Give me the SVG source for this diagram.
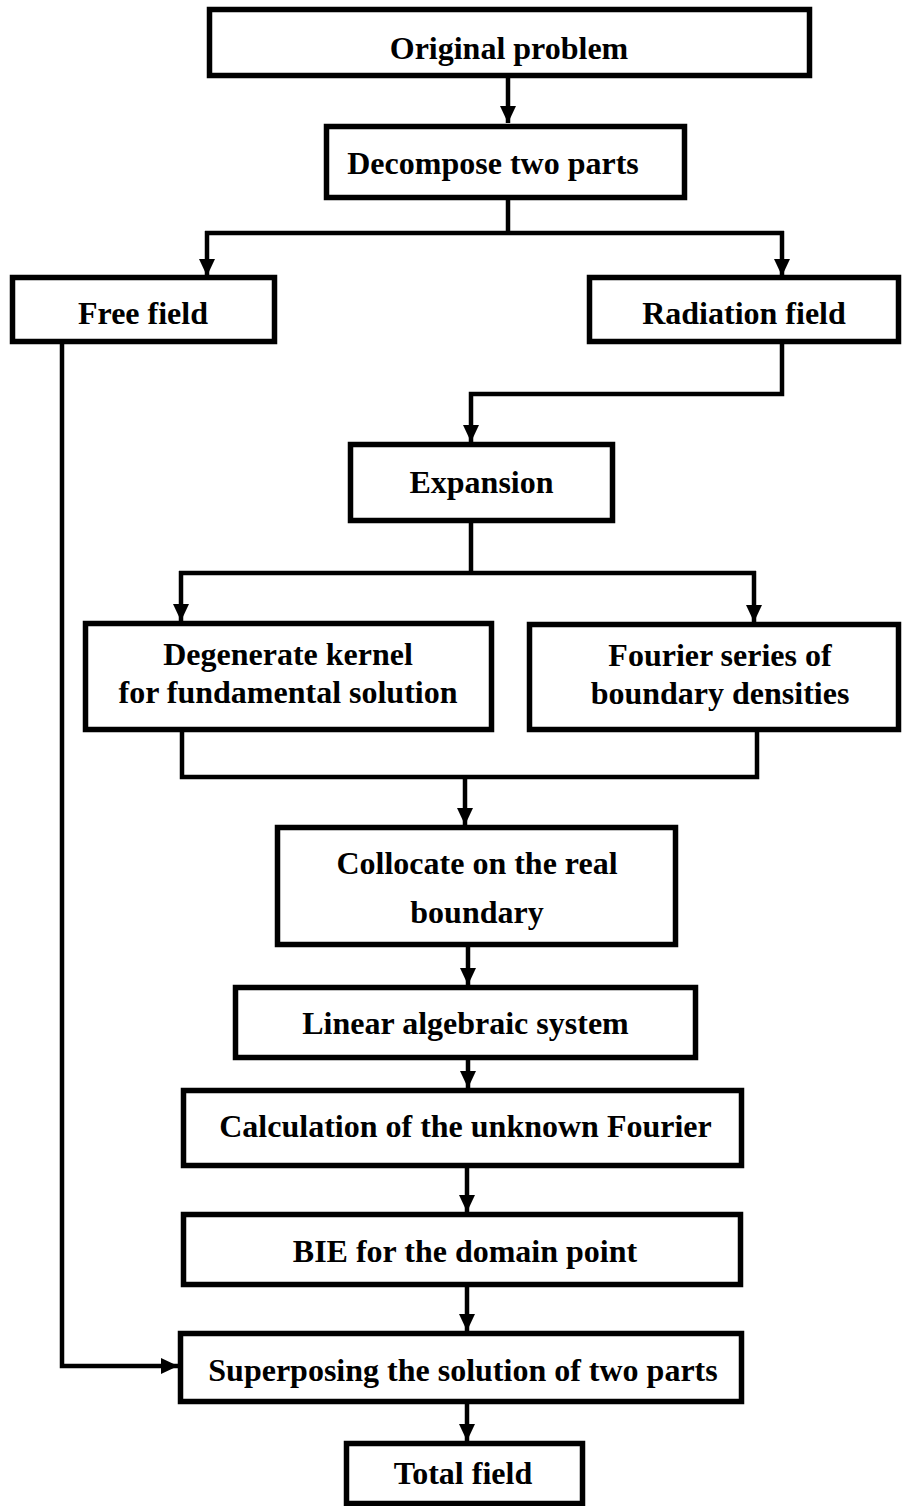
<svg xmlns="http://www.w3.org/2000/svg" width="902" height="1506" viewBox="0 0 902 1506">
<style>
.box{fill:#fff;stroke:#000;stroke-width:5.5}
.lbl{font-family:"Liberation Serif","Times New Roman",serif;font-weight:bold;font-size:32px;fill:#000;text-anchor:middle}
.con{fill:none;stroke:#000;stroke-width:4.5;stroke-linejoin:miter}
</style>
<defs>
<marker id="ah" markerUnits="userSpaceOnUse" markerWidth="18" markerHeight="18" refX="17" refY="8" orient="auto">
<path d="M0,0 L17,8 L0,16 Z" fill="#000"/>
</marker>
</defs>
<rect width="902" height="1506" fill="#fff"/>
<g id="connectors">
<path class="con" d="M508,78 V123" marker-end="url(#ah)"/>
<path class="con" d="M508,200 V233"/>
<path class="con" d="M205,233 H784"/>
<path class="con" d="M207,231 V276" marker-end="url(#ah)"/>
<path class="con" d="M782,231 V276" marker-end="url(#ah)"/>
<path class="con" d="M62,342 V1366 H178" marker-end="url(#ah)"/>
<path class="con" d="M782,342 V394 H471 V442" marker-end="url(#ah)"/>
<path class="con" d="M471,523 V573"/>
<path class="con" d="M179,573 H756"/>
<path class="con" d="M181,571 V621" marker-end="url(#ah)"/>
<path class="con" d="M754,571 V622" marker-end="url(#ah)"/>
<path class="con" d="M182,732 V777 H757 V732"/>
<path class="con" d="M465,777 V825" marker-end="url(#ah)"/>
<path class="con" d="M468,947 V985" marker-end="url(#ah)"/>
<path class="con" d="M468,1060 V1088" marker-end="url(#ah)"/>
<path class="con" d="M467,1168 V1212" marker-end="url(#ah)"/>
<path class="con" d="M467,1287 V1331" marker-end="url(#ah)"/>
<path class="con" d="M467,1404 V1441" marker-end="url(#ah)"/>
</g>
<g id="n-original"><rect class="box" x="209.5" y="9.5" width="600" height="66"/><text class="lbl" x="509" y="59">Original problem</text></g>
<g id="n-decompose"><rect class="box" x="326.5" y="126.5" width="358" height="71"/><text class="lbl" x="493" y="174">Decompose two parts</text></g>
<g id="n-free"><rect class="box" x="12.5" y="277.5" width="262" height="64"/><text class="lbl" x="143" y="324">Free field</text></g>
<g id="n-radiation"><rect class="box" x="589.5" y="277.5" width="309" height="64"/><text class="lbl" x="744" y="324">Radiation field</text></g>
<g id="n-expansion"><rect class="box" x="350.5" y="444.5" width="262" height="76"/><text class="lbl" x="481.5" y="493">Expansion</text></g>
<g id="n-degenerate"><rect class="box" x="85.5" y="623.5" width="406" height="106"/><text class="lbl" x="288" y="665">Degenerate kernel</text><text class="lbl" x="288" y="703">for fundamental solution</text></g>
<g id="n-fourier"><rect class="box" x="529.5" y="624.5" width="369" height="105"/><text class="lbl" x="720" y="666">Fourier series of</text><text class="lbl" x="720" y="704">boundary densities</text></g>
<g id="n-collocate"><rect class="box" x="277.5" y="827.5" width="398" height="117"/><text class="lbl" x="477" y="874">Collocate on the real</text><text class="lbl" x="477" y="923">boundary</text></g>
<g id="n-linear"><rect class="box" x="235.5" y="987.5" width="460" height="70"/><text class="lbl" x="465.5" y="1034">Linear algebraic system</text></g>
<g id="n-calc"><rect class="box" x="183.5" y="1090.5" width="558" height="75"/><text class="lbl" x="465.5" y="1137">Calculation of the unknown Fourier</text></g>
<g id="n-bie"><rect class="box" x="183.5" y="1214.5" width="557" height="70"/><text class="lbl" x="465" y="1262">BIE for the domain point</text></g>
<g id="n-superpose"><rect class="box" x="180.5" y="1333.5" width="561" height="68"/><text class="lbl" x="463" y="1381">Superposing the solution of two parts</text></g>
<g id="n-total"><rect class="box" x="346.5" y="1443.5" width="236" height="60"/><text class="lbl" x="463" y="1484">Total field</text></g>
</svg>
